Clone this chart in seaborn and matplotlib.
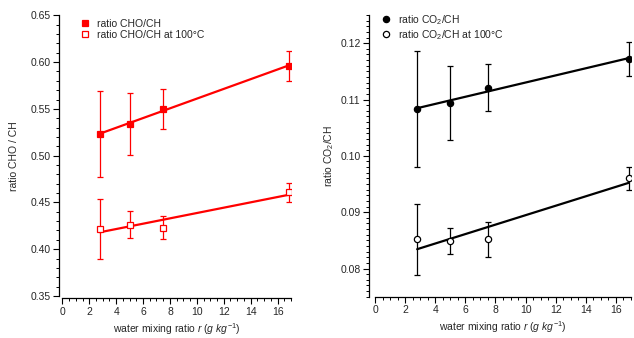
import numpy as np
import pandas as pd
import matplotlib
matplotlib.use("Agg")
import matplotlib.pyplot as plt
from matplotlib.ticker import MultipleLocator
import seaborn as sns

# ---- data ----
r = [2.8, 5.0, 7.5, 16.85]
cho = [0.523, 0.534, 0.550, 0.596]
cho_err = [0.046, 0.033, 0.021, 0.016]
cho100 = [0.422, 0.4264, 0.4232, 0.4607]
cho100_err = [0.032, 0.014, 0.012, 0.010]
co2 = [0.1084, 0.1094, 0.1121, 0.1172]
co2_err = [0.0103, 0.0066, 0.0042, 0.0030]
co2_100 = [0.0852, 0.0849, 0.0852, 0.0960]
co2_100_err = [0.0063, 0.0023, 0.0031, 0.0021]

sns.set_style("ticks")
plt.rcParams['font.family'] = ['Liberation Sans', 'DejaVu Sans']
plt.rcParams['mathtext.fontset'] = 'custom'
plt.rcParams['mathtext.rm'] = 'Liberation Sans'
plt.rcParams['mathtext.it'] = 'Liberation Sans:italic'
plt.rcParams['font.size'] = 7.5

fig = plt.figure(figsize=(6.34, 3.38), dpi=100)
ax1 = fig.add_axes([0.0983, 0.1243, 0.3607, 0.8304])
ax2 = fig.add_axes([0.5915, 0.1222, 0.4038, 0.8334])

RED = '#ff0000'
df = pd.DataFrame(dict(r=r, cho=cho, cho100=cho100, co2=co2, co2_100=co2_100))


def panel(ax, ycol, err, color, marker, label, filled, ms):
    ax.errorbar(r, df[ycol], yerr=err, fmt='none', ecolor=color,
                elinewidth=0.9, capsize=2.3, capthick=0.9, zorder=2)
    sns.regplot(data=df, x='r', y=ycol, ax=ax, ci=None, scatter=False,
                color=color, line_kws=dict(lw=1.6, zorder=3))
    ax.plot(r, df[ycol], linestyle='none', marker=marker, ms=ms,
            mfc=color if filled else 'white', mec=color, mew=0.9,
            label=label, zorder=4)


panel(ax1, 'cho', cho_err, RED, 's', 'ratio CHO/CH', True, 5)
panel(ax1, 'cho100', cho100_err, RED, 's', 'ratio CHO/CH at 100°C', False, 5)
panel(ax2, 'co2', co2_err, 'black', 'o', r'ratio CO$_2$/CH', True, 4.5)
panel(ax2, 'co2_100', co2_100_err, 'black', 'o', r'ratio CO$_2$/CH at 100°C', False, 4.5)

ax1.set_xlim(0, 17)
ax1.set_ylim(0.35, 0.65)
ax2.set_xlim(0, 17)
ax2.set_ylim(0.075, 0.125)

ax1.yaxis.set_major_locator(MultipleLocator(0.05))
ax1.yaxis.set_minor_locator(MultipleLocator(0.01))
ax2.yaxis.set_major_locator(MultipleLocator(0.01))
ax2.yaxis.set_minor_locator(MultipleLocator(0.001))
for ax in (ax1, ax2):
    ax.xaxis.set_major_locator(MultipleLocator(2))
    ax.xaxis.set_minor_locator(MultipleLocator(0.5))
    for s in ('top', 'right'):
        ax.spines[s].set_visible(False)
    for s in ('left', 'bottom'):
        ax.spines[s].set_linewidth(0.9)
        ax.spines[s].set_color('black')
    ax.tick_params(which='major', direction='out', length=4, width=0.8,
                   labelsize=7.5, pad=2, color='black')
    ax.tick_params(which='minor', direction='out', length=2.2, width=0.7,
                   color='black')
    ax.set_xlabel(r'water mixing ratio $r$ $(g\ kg^{-1})$', fontsize=7.5, labelpad=3)

ax1.spines['left'].set_position(('outward', 2.4))
ax1.spines['bottom'].set_position(('outward', 1.7))
ax2.spines['left'].set_position(('outward', 4.3))
ax1.yaxis.set_major_formatter(matplotlib.ticker.FormatStrFormatter('%.2f'))
ax2.yaxis.set_major_formatter(matplotlib.ticker.FormatStrFormatter('%.2f'))

ax1.set_ylabel('ratio CHO / CH', fontsize=7.5, labelpad=8)
ax2.set_ylabel(r'ratio CO$_2$/CH', fontsize=7.5, labelpad=3)

ax1.legend(loc='upper left', bbox_to_anchor=(0.05, 1.01), frameon=False,
           fontsize=7.5, handlelength=1.0, handletextpad=0.6,
           labelspacing=0.12, borderaxespad=0.2)
ax2.legend(loc='upper left', bbox_to_anchor=(0.0, 1.03), frameon=False,
           fontsize=7.5, handlelength=1.0, handletextpad=0.6,
           labelspacing=0.12, borderaxespad=0.2)

fig.savefig('out.png', dpi=100)
